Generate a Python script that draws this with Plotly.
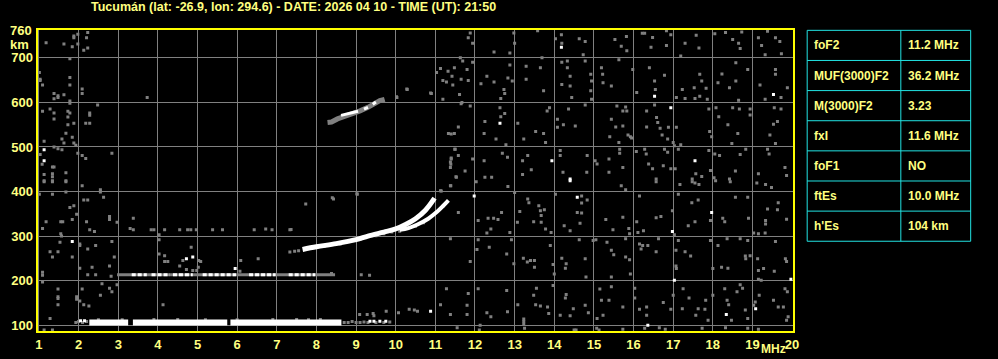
import plotly.graph_objects as go

W, H = 998, 359

title_text = "Tucumán (lat: -26.9, lon: 294.6) - DATE: 2026 04 10 - TIME (UT): 21:50"
x_ticks = list(range(1, 21))
y_ticks = [100, 200, 300, 400, 500, 600, 700]
y_top_label = "760"

table_labels = ["foF2", "MUF(3000)F2", "M(3000)F2", "fxI", "foF1", "ftEs", "h'Es"]
table_values = ["11.2 MHz", "36.2 MHz", "3.23", "11.6 MHz", "NO", "10.0 MHz", "104 km"]

# ---- echo traces (frequency MHz, virtual height km) ----
es_f = [2.27, 3.25, None, 3.37, 5.75, None, 5.83, 8.63]
es_h = [106, 106, None, 106, 106, None, 106, 106]
es_fringe = [(1.93, 106), (2.0, 108), (2.1, 106), (2.2, 108), (8.7, 106), (8.8, 106), (8.9, 108),
             (9.0, 106), (9.1, 106), (9.2, 107), (9.3, 106), (9.5, 106), (9.7, 106), (9.85, 107),
             (3.9, 113), (4.5, 113), (5.2, 112), (6.0, 112), (6.9, 113), (7.5, 113), (8.1, 113),
             (2.5, 112), (3.1, 112), (7.8, 112)]
es_fringe_white = [(9.35, 109), (9.45, 109), (9.6, 109), (9.75, 109), (2.05, 110), (2.15, 110)]

es2_gray_f = [2.97, 8.47]
es2_gray_h = [213, 213]
es2_f = [3.34, 3.72, None, 3.84, 4.3, None, 4.38, 4.88, None, 5.13, 5.97, None, 6.3, 6.97, None, 7.3, 7.97]
es2_h = [213, 213, None, 213, 213, None, 213, 213, None, 213, 213, None, 213, 213, None, 213, 213]

f2_o_f = [7.65, 8.0, 8.5, 9.0, 9.3, 9.7, 10.0, 10.25, 10.5, 10.75, 10.98]
f2_o_h = [270, 276, 283, 292, 300, 309, 316, 326, 339, 358, 385]
f2_x_f = [10.1, 10.32, 10.55, 10.82, 11.05, 11.2, 11.33]
f2_x_h = [314, 318, 326, 339, 355, 368, 380]
f2_fringe = [(7.33, 264), (7.45, 266), (7.55, 267), (9.5, 301), (9.7, 305), (9.9, 309), (10.1, 311),
             (10.3, 317), (10.5, 322), (10.7, 330), (8.6, 282), (8.2, 277), (9.1, 293)]

mh_gray_f = [8.28, 8.38, 8.53, 8.7, 8.9, 9.1, 9.3, 9.45, 9.6, 9.72]
mh_gray_h = [555, 556, 563, 568, 574, 581, 589, 597, 604, 607]
mh_white_f = [8.62, 8.75, 8.9, 9.05, None, 9.2, 9.3, None, 9.42, 9.5, None, 9.66]
mh_white_h = [571, 574, 577, 580, None, 585, 589, None, 596, 601, None, 606]

# ---- scattered interference dots ----
noise_gray = [
    (1.18,734),(1.63,731),(1.88,745),(1.88,749),(1.98,753),(1.98,731),(1.84,725),(2.13,717),(2.23,722),
    (2.23,757),(2.2,745),(1.78,698),(1.01,667),(1.03,652),(1.03,649),(1.09,639),(1.78,656),(1.78,639),
    (2.09,630),(2.09,620),(1.38,620),(1.38,608),(1.48,615),(1.48,611),(1.63,617),(1.78,603),(1.78,598),
    (2.48,594),(1.09,580),(1.28,585),(1.38,576),(1.38,563),(1.73,580),(1.78,576),(1.73,567),(2.28,576),
    (2.28,571),(1.88,553),(1.73,550),(2.18,553),(2.28,553),(1.84,522),(1.68,531),(1.58,518),(1.63,509),
    (1.88,509),(1.93,504),(1.13,513),(1.38,500),(1.48,496),(1.58,494),(1.03,483),(1.98,486),(2.09,481),
    (2.18,474),(2.84,486),(1.08,461),(1.34,455),(1.38,455),(1.13,438),(1.34,440),(1.68,442),(1.34,433),
    (1.34,424),(1.13,424),(1.68,424),(3.73,611),(10.03,611),(10.28,630),(10.88,621),(10.29,629),
    (10.02,613),(8.4,386),(7.73,372),(7.36,315),(9.02,395),
    (1.13,422),(1.34,422),(1.68,422),(2.09,413),(2.55,404),(2.55,399),(1.01,394),(1.34,394),(1.68,399),
    (2.13,381),(2.23,381),(2.63,387),(1.78,364),(1.88,368),(1.95,349),(1.84,337),(1.18,332),(1.55,332),
    (1.6,332),(2.78,344),(2.78,337),(2.97,331),(2.2,332),(1.09,317),(2.28,314),(2.4,310),(1.55,305),
    (1.57,300),(3.38,340),(3.3,317),(3.38,314),(3.83,314),(3.9,314),(4.17,314),(4.55,314),(4.75,314),
    (4.83,314),(4.97,314),(5.38,314),(5.63,314),(6.43,314),(6.72,316),(6.88,314),(7.33,314),(4.03,303),
    (4.03,292),(1.53,286),(2.03,282),(2.03,279),(2.43,279),(2.84,288),(1.28,265),(1.48,265),(1.34,253),
    (1.84,253),(2.23,271),(2.9,253),(4.03,260),(4.17,256),(4.84,275),(4.17,243),(4.25,243),(4.63,245),
    (5.03,245),(5.08,243),(5.02,230),(4.98,223),(4.55,233),(4.72,225),(4.88,223),(2.03,228),(2.34,230),
    (2.78,233),(1.09,219),(1.09,212),(2.23,213),(2.43,213),(2.82,210),(6.09,245),(6.53,249),(6.07,221),
    (8.38,216),(9.13,213),(9.34,212),(8.43,383),(9.03,394),(1.09,197),(1.48,181),(1.48,164),(1.48,160),
    (1.48,146),(1.95,164),(1.95,158),(2.03,154),(2.13,146),(2.26,143),(2.09,181),(2.59,193),(2.78,183),
    (2.97,191),(2.55,167),(2.84,175),(4.13,146),(1.28,115),(1.13,89),(1.34,89),(9.09,124),(9.28,124),
    (9.43,126),(9.45,121),(9.76,131),(10.07,128),(10.34,136),(10.47,134),(10.55,131),
    (11.88,756),(11.94,733),(11.83,745),(12.48,713),(12.88,711),(12.98,756),(13.0,733),(13.58,761),
    (14.03,743),(14.18,752),(14.19,733),(14.63,743),(14.78,737),(14.73,707),(15.53,741),(15.82,748),
    (15.83,716),(15.69,726),(16.22,755),(16.28,755),(16.48,746),(16.44,724),(16.83,761),(16.94,752),
    (16.83,728),(17.3,733),(17.58,751),(17.65,722),(18.05,754),(18.32,757),(18.5,741),(18.65,733),
    (18.69,721),(18.73,758),(19.15,745),(19.23,728),(19.38,760),(19.58,745),(19.69,737),(19.32,707),
    (19.73,709),(17.19,704),
    (11.03,667),(11.13,676),(11.19,649),(11.28,646),(11.32,670),(11.42,659),(11.44,639),(11.48,678),
    (11.63,700),(11.65,652),(11.69,693),(11.8,674),(11.83,649),(11.94,690),(11.61,618),(11.67,600),
    (11.19,607),(10.9,620),(12.15,642),(12.3,659),(12.48,646),(12.65,609),(12.73,629),(12.83,655),
    (12.88,684),(12.94,648),(12.75,620),(13.29,681),(13.29,652),(13.65,678),(13.73,626),(13.69,700),
    (14.19,690),(14.33,693),(14.33,678),(14.4,659),(14.4,637),(14.19,640),(14.44,611),(14.78,693),
    (14.92,663),(14.94,648),(14.92,626),(14.94,607),(15.19,678),(15.22,663),(15.23,644),(15.44,637),
    (15.63,696),(15.98,674),(16.08,622),(16.4,678),(16.53,648),(16.55,629),(16.78,661),(17.08,611),
    (17.23,629),(17.3,609),(17.53,633),(17.55,609),(17.67,663),(17.72,648),(17.83,632),(17.67,614),
    (17.86,607),(18.13,644),(18.23,664),(18.42,633),(18.58,689),(18.58,648),(18.65,605),(18.88,674),
    (19.19,639),(19.32,607),(19.58,674),(19.58,663),(19.72,611),(19.88,633),
    (11.65,597),(11.88,592),(12.25,557),(12.63,588),(12.65,568),(12.75,575),(12.78,505),(12.53,518),
    (12.23,530),(11.58,545),(11.33,530),(11.48,530),(13.08,553),(13.23,518),(13.53,535),(13.73,530),
    (13.78,510),(13.82,581),(13.88,588),(14.08,562),(14.08,544),(14.23,550),(14.36,585),(14.53,547),
    (14.78,594),(15.4,523),(15.44,562),(15.58,592),(15.63,510),(15.55,545),(15.73,581),(15.8,590),
    (15.83,581),(15.73,547),(15.86,527),(15.92,523),(15.95,520),(16.33,581),(16.33,545),(16.53,594),
    (16.58,566),(16.61,555),(16.67,542),(16.72,527),(16.86,518),(16.88,544),(17.0,510),(17.03,503),
    (17.08,544),(17.19,505),(17.9,585),(17.92,535),(17.97,523),(18.08,588),(18.15,568),(18.38,550),
    (18.5,588),(18.67,585),(18.94,585),(18.94,572),(18.63,530),(18.48,508),(19.44,527),(19.55,588),
    (19.53,551),(19.63,557),(19.58,508),(19.72,585),
    (11.4,475),(11.38,466),(11.38,454),(11.5,495),(11.58,481),(11.53,432),(11.75,446),(11.94,473),
    (12.23,469),(12.25,432),(12.42,432),(12.69,486),(12.82,477),(13.2,469),(13.2,438),(13.33,481),
    (13.42,449),(14.15,492),(14.15,481),(14.22,443),(14.83,481),(14.82,443),(15.03,469),(15.08,462),
    (15.38,473),(15.38,443),(15.65,495),(15.65,486),(15.73,454),(16.07,490),(16.28,495),(16.32,484),
    (16.38,462),(16.48,451),(16.57,428),(16.78,495),(16.75,458),(16.86,488),(16.94,451),(17.05,451),
    (17.13,495),(17.57,440),(17.48,428),(17.72,434),(17.9,492),(17.94,447),(18.05,484),(18.03,431),
    (18.17,481),(18.42,428),(18.57,446),(18.69,483),(18.83,495),(19.15,440),(19.42,484),(19.38,495),
    (19.82,454),(19.86,436),(11.4,529),(11.49,495),(11.4,473),(11.39,461),(11.52,433),(11.39,413),
    (11.13,402),
    (11.15,401),(11.38,413),(12.03,422),(12.83,411),(13.0,398),(15.69,413),(15.8,404),(16.57,422),
    (17.17,416),(17.48,422),(17.55,419),(17.65,416),(18.07,424),(18.44,422),(19.11,419),(19.48,409),
    (19.33,416),
    (11.58,353),(12.08,335),(12.33,340),(12.47,340),(12.58,337),(12.67,353),(12.4,316),(12.3,307),
    (12.88,308),(13.07,331),(13.13,355),(13.33,383),(13.36,375),(13.61,368),(13.65,357),(13.75,359),
    (13.67,346),(13.67,331),(13.48,332),(13.78,316),(13.92,308),(14.03,394),(14.25,323),(14.4,312),
    (14.69,390),(14.69,374),(14.58,353),(14.69,352),(14.83,381),(14.65,329),(15.3,337),(15.48,314),
    (15.73,342),(15.88,317),(15.9,305),(16.08,332),(16.15,390),(16.25,312),(16.11,308),(16.57,341),
    (16.69,344),(16.98,357),(17.03,303),(17.13,394),(17.38,323),(17.47,375),(17.63,381),(17.55,332),
    (17.94,335),(18.25,340),(18.3,332),(18.57,387),(18.88,387),(18.9,340),(19.03,307),(19.15,305),
    (19.33,335),(19.33,327),(19.38,361),(19.65,375),(19.63,359),(19.86,338),(19.32,307),
    (11.38,294),(12.08,292),(12.36,275),(12.05,270),(11.88,243),(12.8,260),(12.92,292),(12.98,238),
    (13.22,250),(13.32,242),(13.4,245),(13.5,245),(13.5,230),(13.9,279),(13.97,236),(14.0,215),
    (14.19,250),(14.3,238),(14.28,228),(14.63,292),(14.78,249),(14.8,208),(14.98,290),(15.05,292),
    (15.33,286),(15.44,268),(15.5,258),(15.44,208),(15.8,253),(15.8,294),(15.9,247),(15.92,215),
    (16.15,282),(16.19,271),(16.23,279),(16.36,279),(16.63,294),(16.57,265),(17.13,290),(17.07,268),
    (17.3,265),(17.07,233),(17.08,227),(17.44,255),(17.94,290),(18.0,227),(18.13,279),(18.22,230),
    (18.36,294),(18.38,228),(18.69,294),(18.82,255),(18.88,290),(18.94,256),(18.83,249),(19.13,249),
    (19.15,223),(19.28,227),(19.55,221),(19.58,288),(19.83,249),(19.86,243),(19.15,203),(19.22,201),
    (11.28,182),(11.13,146),(11.38,124),(11.83,171),(11.8,145),(11.8,124),(12.08,182),(12.3,128),
    (12.4,119),(12.82,130),(12.8,178),(13.08,146),(13.23,108),(13.23,114),(13.23,102),(13.48,167),
    (13.55,183),(13.53,146),(13.65,143),(13.83,141),(13.86,126),(13.97,189),(14.15,122),(14.3,169),
    (14.28,161),(14.4,121),(14.48,137),(14.78,145),(14.86,128),(15.15,181),(15.19,156),(15.23,122),
    (15.08,115),(15.44,186),(15.38,156),(15.73,141),(16.03,183),(16.03,161),(16.15,136),(16.33,141),
    (16.33,122),(16.75,151),(17.0,167),(16.94,136),(17.25,182),(17.4,161),(17.23,137),(17.63,137),
    (17.57,122),(17.82,156),(17.8,136),(17.88,111),(18.0,167),(18.3,182),(18.36,156),(18.4,146),
    (18.47,111),(18.61,175),(18.69,191),(18.75,183),(18.82,134),(18.88,115),(19.03,145),(19.07,152),
    (19.17,167),(19.53,156),(19.65,141),(19.78,141),(19.82,182),(19.88,175),(19.9,119),(19.86,111),
    (11.55,94),(12.13,100),(12.11,89),(13.25,93),(14.5,89),(14.55,89),(15.07,93),(15.13,89),(15.73,91),
    (16.28,93),(16.65,94),(16.8,91),(17.73,93),(18.32,94),(18.88,93),(19.15,91),
]
noise_white = [
    (14.18,724),(16.53,614),(19.53,618),(12.63,553),(16.94,588),(13.94,469),(14.4,428),(17.55,469),
    (11.98,390),(14.4,424),(14.58,387),(16.98,310),(17.97,353),(17.03,201),(19.97,203),(10.88,131),
    (16.36,100),(18.34,124),(19.08,137),(1.13,494),(1.13,469),(1.84,288),(4.72,249),(4.88,253),(5.95,227),
]

GRAY = "#808080"
YEL = "#ffff80"
CYAN = "#22e4e4"
FONT = "Liberation Sans"

fig = go.Figure()


def dots(pts, color, size=3):
    fig.add_trace(go.Scatter(x=[p[0] for p in pts], y=[p[1] for p in pts], mode="markers",
                             marker=dict(symbol="square", size=size, color=color, line=dict(width=0)),
                             hoverinfo="skip", showlegend=False))


def line(xs, ys, color, width, dash=None, shape="linear"):
    fig.add_trace(go.Scatter(x=xs, y=ys, mode="lines",
                             line=dict(color=color, width=width, dash=dash, shape=shape),
                             hoverinfo="skip", showlegend=False, connectgaps=False))


dots(noise_gray, GRAY)
dots(es_fringe, GRAY)
dots(f2_fringe, GRAY)
line(es2_gray_f, es2_gray_h, GRAY, 3)
line(mh_gray_f, mh_gray_h, GRAY, 5)
line(es_f, es_h, "#ffffff", 6)
line(es2_f, es2_h, "#ffffff", 3, dash="4px,2px")
line(mh_white_f, mh_white_h, "#ffffff", 3)
line(f2_o_f, f2_o_h, "#ffffff", 5, shape="spline")
line(f2_x_f, f2_x_h, "#ffffff", 4, shape="spline")
dots(noise_white, "#ffffff")
dots(es_fringe_white, "#ffffff")

# plot area in pixels
L, R, T, B = 36, 798, 30, 333
px_per_mhz = 40.0
px_per_km = 0.448
x0 = 1 + (L - 37.3) / px_per_mhz
x1 = 1 + (R - 37.3) / px_per_mhz
y0 = 100 - (B - 327) / px_per_km
y1 = 100 + (327 - T) / px_per_km


def pxx(px):
    return px / W


def pxy(py):
    return 1 - py / H


tickfont = dict(family=FONT, size=13, color=YEL, weight="bold")
fig.update_layout(
    width=W, height=H, margin=dict(l=0, r=0, t=0, b=0),
    paper_bgcolor="black", plot_bgcolor="black",
    xaxis=dict(domain=[pxx(L), pxx(R)], range=[x0, x1], tickvals=x_ticks,
               ticktext=[str(v) for v in x_ticks], showgrid=True, gridcolor=GRAY, gridwidth=1,
               zeroline=False, showline=True, linecolor="#ffff00", linewidth=2, mirror=True,
               ticks="", tickfont=tickfont),
    yaxis=dict(domain=[pxy(B), pxy(T)], range=[y0, y1], tickvals=y_ticks,
               ticktext=[str(v) for v in y_ticks], showgrid=True, gridcolor=GRAY, gridwidth=1,
               zeroline=False, showline=True, linecolor="#ffff00", linewidth=2, mirror=True,
               ticks="", tickfont=tickfont),
)

anns = [
    dict(x=pxx(294), y=pxy(7), text=title_text, xanchor="center", yanchor="middle",
         font=dict(family=FONT, size=12.5, color=YEL, weight="bold")),
    dict(x=pxx(32), y=pxy(31), text=y_top_label, xanchor="right", yanchor="middle",
         font=tickfont),
    dict(x=pxx(6), y=pxy(45), text="km", xanchor="left", yanchor="middle",
         font=tickfont),
    dict(x=pxx(779), y=pxy(351), text="MHz", xanchor="center", yanchor="middle",
         font=dict(family=FONT, size=12, color=YEL, weight="bold")),
]

shapes = []
tl, tm, tr = 812.5, 907, 977.5
ttop, row_h = 30.5, 30.3
nrows = len(table_labels)
for i in range(nrows + 1):
    yy = ttop + i * row_h
    shapes.append(dict(type="line", xref="paper", yref="paper", x0=pxx(tl), x1=pxx(tr),
                       y0=pxy(yy), y1=pxy(yy), line=dict(color=CYAN, width=1)))
for xx in (tl, tm, tr):
    shapes.append(dict(type="line", xref="paper", yref="paper", x0=pxx(xx), x1=pxx(xx),
                       y0=pxy(ttop), y1=pxy(ttop + nrows * row_h), line=dict(color=CYAN, width=1)))
for i, (lab, val) in enumerate(zip(table_labels, table_values)):
    yc = ttop + (i + 0.5) * row_h
    anns.append(dict(x=pxx(817), y=pxy(yc), text=lab, xanchor="left", yanchor="middle",
                     font=dict(family=FONT, size=12, color=YEL, weight="bold")))
    anns.append(dict(x=pxx(912), y=pxy(yc), text=val, xanchor="left", yanchor="middle",
                     font=dict(family=FONT, size=12, color=YEL, weight="bold")))

for a in anns:
    a.update(xref="paper", yref="paper", showarrow=False)
fig.update_layout(annotations=anns, shapes=shapes)

fig.write_html("out.html")
